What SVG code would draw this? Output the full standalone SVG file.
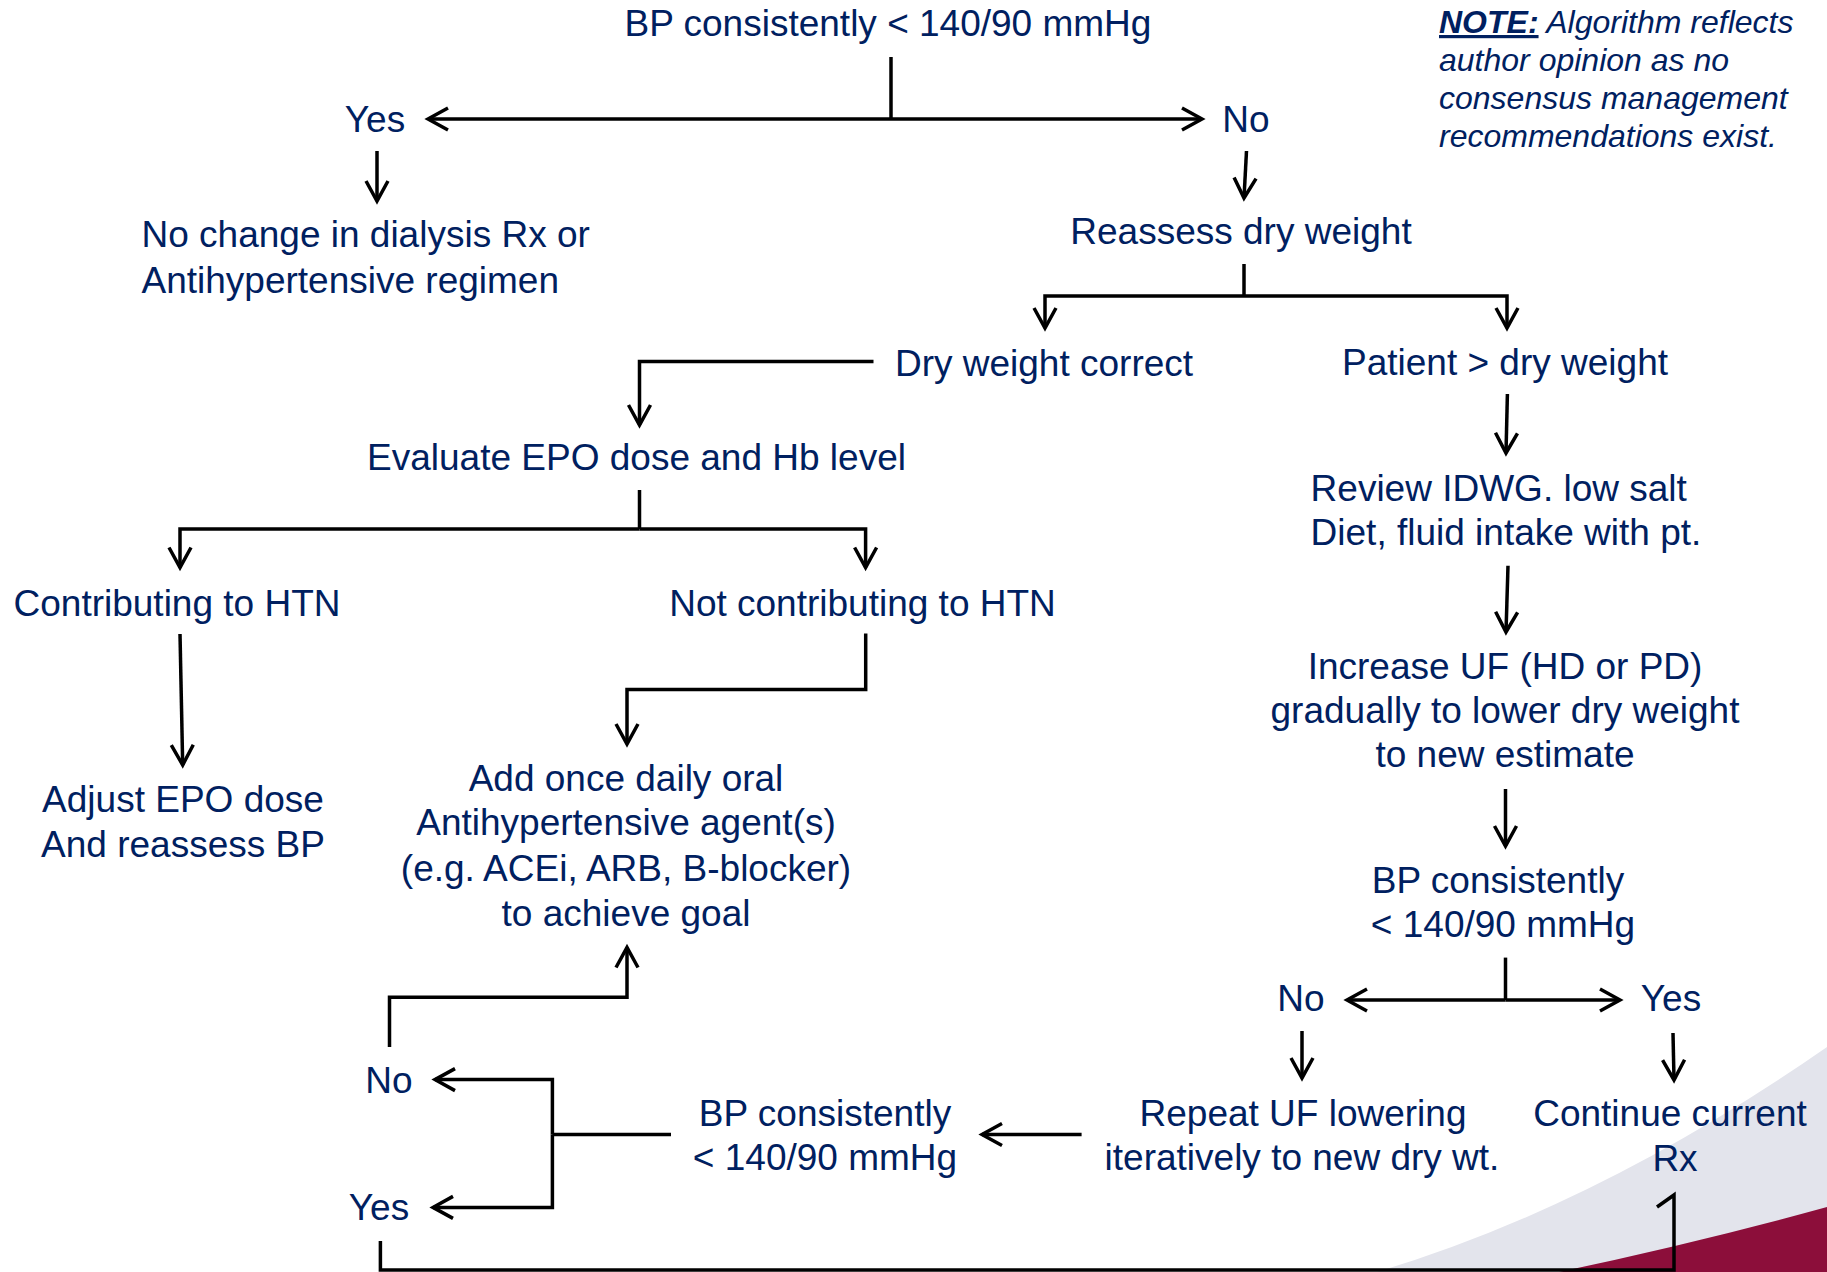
<svg xmlns="http://www.w3.org/2000/svg" width="1827" height="1272" viewBox="0 0 1827 1272">
<style>
  .t { font-family: "Liberation Sans", Arial, sans-serif; font-size: 37px; fill: #002060; }
  .c { text-anchor: middle; }
  .note { font-family: "Liberation Sans", Arial, sans-serif; font-size: 32px; font-style: italic; fill: #002060; }
  .ln { fill: none; stroke: #000; stroke-width: 3.5; stroke-linejoin: miter; }
  .ar { marker-end: url(#arr); }
</style>
<defs>
  <marker id="arr" viewBox="-26 -16 30 32" refX="0" refY="0" markerWidth="30" markerHeight="32" markerUnits="userSpaceOnUse" orient="auto" overflow="visible">
    <path d="M-20,-11 L0,0 L-20,11" fill="none" stroke="#000" stroke-width="3.5" stroke-linejoin="miter"/>
  </marker>
</defs>
<rect width="1827" height="1272" fill="#ffffff"/>
<g id="decoration">
  <path d="M1377,1272 Q1600,1205 1827,1047 L1827,1272 Z" fill="#e3e4ec"/>
  <path d="M1559,1272 Q1700,1242 1827,1207 L1827,1272 Z" fill="#8c0e3a"/>
</g>
<g id="connectors">
  <path class="ln" d="M891,57 V119"/>
  <path class="ln ar" d="M891,119 H428"/>
  <path class="ln ar" d="M891,119 H1202"/>
  <path class="ln ar" d="M377,151 V201"/>
  <path class="ln ar" d="M1246.5,151 L1244,198"/>
  <path class="ln" d="M1244,264 V296"/>
  <path class="ln ar" d="M1244,296 H1045 V328"/>
  <path class="ln ar" d="M1244,296 H1507 V328"/>
  <path class="ln ar" d="M873.5,361.5 H639.5 V425"/>
  <path class="ln" d="M639.5,490 V529"/>
  <path class="ln ar" d="M639.5,529 H180 V567.5"/>
  <path class="ln ar" d="M639.5,529 H865.6 V567.5"/>
  <path class="ln ar" d="M180,634 L182.7,765"/>
  <path class="ln ar" d="M865.7,633.6 V689.4 H627 V744"/>
  <path class="ln ar" d="M1507.4,394 L1506,453"/>
  <path class="ln ar" d="M1508,565.7 L1506,632"/>
  <path class="ln ar" d="M1505.5,789 V846"/>
  <path class="ln" d="M1505.5,957.6 V1000"/>
  <path class="ln ar" d="M1505.5,1000 H1347"/>
  <path class="ln ar" d="M1505.5,1000 H1620"/>
  <path class="ln ar" d="M1302,1031 V1078"/>
  <path class="ln ar" d="M1673,1033 L1674,1080"/>
  <path class="ln ar" d="M1081.6,1134.5 H982"/>
  <path class="ln" d="M671,1134.5 H552.4"/>
  <path class="ln ar" d="M552.4,1134.5 V1079.6 H435"/>
  <path class="ln ar" d="M552.4,1134.5 V1207.4 H433"/>
  <path class="ln ar" d="M389.5,1047 V997.3 H627 V947.5"/>
  <path class="ln" d="M380.4,1241 V1270 H1674 V1195 L1657,1207"/>
</g>
<g id="n-top"><text class="t c" x="888" y="36">BP consistently &lt; 140/90 mmHg</text></g>
<g id="n-note">
  <text class="note" x="1439" y="33"><tspan font-weight="bold" text-decoration="underline">NOTE:</tspan> Algorithm reflects</text>
  <text class="note" x="1439" y="71">author opinion as no</text>
  <text class="note" x="1439" y="108.5">consensus management</text>
  <text class="note" x="1439" y="146.5">recommendations exist.</text>
</g>
<g id="n-yes1"><text class="t c" x="375" y="132">Yes</text></g>
<g id="n-no1"><text class="t c" x="1246" y="132">No</text></g>
<g id="n-nochange">
  <text class="t" x="141.5" y="247">No change in dialysis Rx or</text>
  <text class="t" x="141.5" y="292.5">Antihypertensive regimen</text>
</g>
<g id="n-reassess"><text class="t c" x="1241" y="244">Reassess dry weight</text></g>
<g id="n-drycorrect"><text class="t c" x="1044" y="375.5">Dry weight correct</text></g>
<g id="n-patient"><text class="t c" x="1505" y="375">Patient &gt; dry weight</text></g>
<g id="n-evaluate"><text class="t c" x="636.5" y="470">Evaluate EPO dose and Hb level</text></g>
<g id="n-contrib"><text class="t c" x="177" y="615.7">Contributing to HTN</text></g>
<g id="n-notcontrib"><text class="t c" x="862.5" y="615.7">Not contributing to HTN</text></g>
<g id="n-adjust">
  <text class="t c" x="183" y="812">Adjust EPO dose</text>
  <text class="t c" x="183" y="857">And reassess BP</text>
</g>
<g id="n-add">
  <text class="t c" x="626" y="790.5">Add once daily oral</text>
  <text class="t c" x="626" y="834.7">Antihypertensive agent(s)</text>
  <text class="t c" x="626" y="880.6">(e.g. ACEi, ARB, B-blocker)</text>
  <text class="t c" x="626" y="925.6">to achieve goal</text>
</g>
<g id="n-review">
  <text class="t" x="1310.6" y="500.7">Review IDWG. low salt</text>
  <text class="t" x="1310.6" y="545">Diet, fluid intake with pt.</text>
</g>
<g id="n-increase">
  <text class="t c" x="1505" y="679">Increase UF (HD or PD)</text>
  <text class="t c" x="1505" y="723.4">gradually to lower dry weight</text>
  <text class="t c" x="1505" y="767.2">to new estimate</text>
</g>
<g id="n-bp2">
  <text class="t c" x="1498" y="893">BP consistently</text>
  <text class="t c" x="1503" y="937">&lt; 140/90 mmHg</text>
</g>
<g id="n-no2"><text class="t c" x="1301" y="1011">No</text></g>
<g id="n-yes2"><text class="t c" x="1671" y="1011">Yes</text></g>
<g id="n-repeat">
  <text class="t c" x="1303" y="1125.5">Repeat UF lowering</text>
  <text class="t c" x="1302" y="1169.7">iteratively to new dry wt.</text>
</g>
<g id="n-continue">
  <text class="t c" x="1670" y="1125.5">Continue current</text>
  <text class="t c" x="1675" y="1170.5">Rx</text>
</g>
<g id="n-bp3">
  <text class="t c" x="825" y="1125.5">BP consistently</text>
  <text class="t c" x="825" y="1169.7">&lt; 140/90 mmHg</text>
</g>
<g id="n-no3"><text class="t c" x="389" y="1092.7">No</text></g>
<g id="n-yes3"><text class="t c" x="379" y="1219.7">Yes</text></g>
</svg>
